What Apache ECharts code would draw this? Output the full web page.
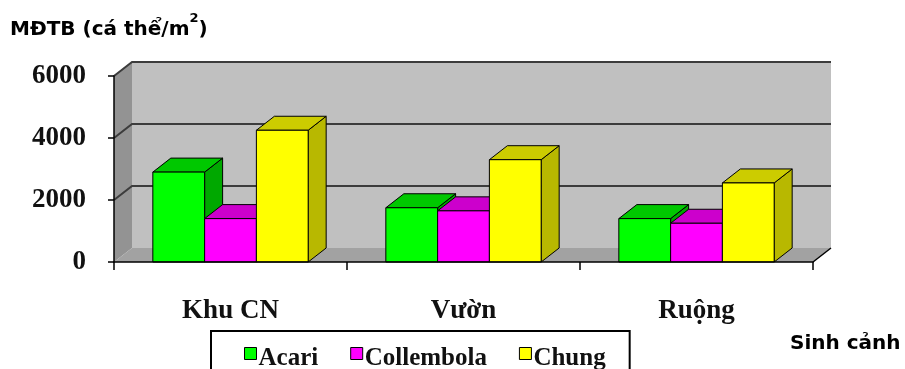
<!DOCTYPE html>
<html>
<head>
<meta charset="utf-8">
<script src="https://cdn.jsdelivr.net/npm/echarts@6/dist/echarts.min.js"></script>
<style>
  html, body { margin: 0; padding: 0; background: #fff; }
  #chart { width: 905px; height: 369px; }
</style>
</head>
<body>
<div id="chart"></div>
<script>
// Mật độ trung bình (cá thể/m²) theo sinh cảnh
const categories = ['Khu CN', 'Vườn', 'Ruộng'];
const seriesNames = ['Acari', 'Collembola', 'Chung'];
const acari = [2900, 1750, 1400];
const collembola = [1400, 1650, 1250];
const chung = [4250, 3300, 2550];
const yTicks = [0, 2000, 4000, 6000];

// Pseudo-3D look: depth offset of walls and columns
const DX = 18, DY = -14;

// face colours: [front, top, side]
const palette = [
  ['#00ff00', '#00c800', '#00a800'],
  ['#ff00ff', '#cc00cc', '#a800a8'],
  ['#ffff00', '#cccc00', '#b8b800']
];

const serifBold = { fontFamily: 'Liberation Serif', fontWeight: 'bold', color: '#111' };

function frameRenderer(params, api) {
  const cs = params.coordSys;
  const x0 = cs.x, x1 = cs.x + cs.width;
  const yb = cs.y + cs.height;
  const yt = api.coord([0, yTicks[yTicks.length - 1]])[1];
  const children = [];
  // back wall
  children.push({ type: 'polygon', shape: { points: [[x0 + DX, yt + DY], [x1 + DX, yt + DY], [x1 + DX, yb + DY], [x0 + DX, yb + DY]] },
    style: { fill: '#c0c0c0' } });
  // left wall
  children.push({ type: 'polygon', shape: { points: [[x0, yb], [x0, yt], [x0 + DX, yt + DY], [x0 + DX, yb + DY]] },
    style: { fill: '#939393' } });
  // floor
  children.push({ type: 'polygon', shape: { points: [[x0, yb], [x1, yb], [x1 + DX, yb + DY], [x0 + DX, yb + DY]] },
    style: { fill: '#a2a2a2' } });
  // floor right edge
  children.push({ type: 'line', shape: { x1: x1, y1: yb, x2: x1 + DX, y2: yb + DY },
    style: { stroke: '#000', lineWidth: 1.5 } });
  // gridlines across left and back walls
  yTicks.forEach(function (v) {
    if (v === 0) return;
    const y = api.coord([0, v])[1];
    children.push({ type: 'polyline', shape: { points: [[x0, y], [x0 + DX, y + DY], [x1 + DX, y + DY]] },
      style: { stroke: '#3c3c3c', lineWidth: 2, fill: null } });
  });
  return { type: 'group', children: children };
}

function makeBarRenderer(k) {
  return function (params, api) {
    const idx = api.value(0);
    const base = api.coord([idx, 0]);
    const top = api.coord([idx, api.value(1)]);
    const bw = api.size([1, 0])[0] / 4.5;
    const xl = base[0] - 1.5 * bw + k * bw;
    const xr = xl + bw;
    const yt = top[1], yb = base[1];
    const c = palette[k];
    const edge = { stroke: '#000', lineWidth: 1 };
    return {
      type: 'group',
      children: [
        { type: 'polygon', shape: { points: [[xr, yt], [xr + DX, yt + DY], [xr + DX, yb + DY], [xr, yb]] },
          style: Object.assign({ fill: c[2] }, edge) },
        { type: 'polygon', shape: { points: [[xl, yt], [xr, yt], [xr + DX, yt + DY], [xl + DX, yt + DY]] },
          style: Object.assign({ fill: c[1] }, edge) },
        { type: 'rect', shape: { x: xl, y: yt, width: bw, height: yb - yt },
          style: Object.assign({ fill: c[0] }, edge) }
      ]
    };
  };
}

const valueSets = [acari, collembola, chung];

const chart = echarts.init(document.getElementById('chart'), null, { renderer: 'canvas' });
chart.setOption({
  animation: false,
  backgroundColor: '#fff',
  title: [
    {
      text: '{a|MĐTB (cá thể/m}{s|2}{a|)}',
      left: 10, top: 12, padding: 0,
      textStyle: {
        rich: {
          a: { fontFamily: 'DejaVu Sans', fontWeight: 'bold', fontSize: 20, color: '#000', lineHeight: 36 },
          s: { fontFamily: 'DejaVu Sans', fontWeight: 'bold', fontSize: 13, color: '#000', lineHeight: 13, verticalAlign: 'top' }
        }
      }
    },
    {
      text: 'Sinh cảnh',
      left: 790, top: 334, padding: 0,
      textStyle: { fontFamily: 'DejaVu Sans', fontWeight: 'bold', fontSize: 20, color: '#000' }
    }
  ],
  legend: {
    data: seriesNames,
    left: 211, top: 331,
    icon: 'rect',
    itemWidth: 12, itemHeight: 12, itemGap: 32,
    padding: [5, 24, 20, 33],
    borderColor: '#000', borderWidth: 2,
    itemStyle: { borderColor: '#000', borderWidth: 1 },
    formatter: '{t|{name}}',
    textStyle: {
      rich: {
        t: Object.assign({ fontSize: 25, lineHeight: 25, padding: [10, 0, 0, -3] }, serifBold)
      }
    }
  },
  grid: { left: 114, right: 92, top: 76, bottom: 107 },
  xAxis: {
    type: 'category',
    data: categories,
    z: 10,
    axisLine: { lineStyle: { color: '#000', width: 1.5 } },
    axisTick: { show: true, length: 8, lineStyle: { color: '#000', width: 1.5 } },
    axisLabel: Object.assign({ fontSize: 27, margin: 36 }, serifBold),
    splitLine: { show: false }
  },
  yAxis: {
    type: 'value',
    min: 0, max: 6000, interval: 2000,
    z: 10,
    axisLine: { show: true, lineStyle: { color: '#000', width: 1.5 } },
    axisTick: { show: true, length: 6, lineStyle: { color: '#000', width: 1.5 } },
    axisLabel: Object.assign({ fontSize: 27, margin: 28, formatter: function (v) { return String(v); } }, serifBold),
    splitLine: { show: false }
  },
  series: [
    {
      type: 'custom', name: 'frame', z: 1, silent: true,
      renderItem: frameRenderer,
      data: [[0, 0]]
    }
  ].concat(seriesNames.map(function (name, k) {
    return {
      type: 'custom', name: name, z: 2,
      itemStyle: { color: palette[k][0] },
      renderItem: makeBarRenderer(k),
      encode: { x: 0, y: 1 },
      data: valueSets[k].map(function (v, i) { return [i, v]; })
    };
  }))
});
</script>
</body>
</html>
